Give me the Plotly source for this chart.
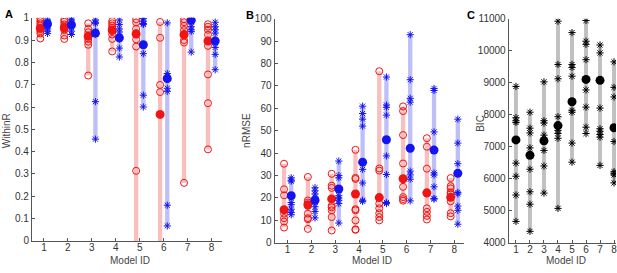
import plotly.graph_objects as go

models = [1, 2, 3, 4, 5, 6, 7, 8]

# Panel A: WithinR (red = circles, blue = stars)
withinR_red = [
    [0.996, 0.985, 0.975, 0.965, 0.955, 0.94, 0.93, 0.907],
    [0.992, 0.982, 0.97, 0.96, 0.953, 0.945, 0.92, 0.905],
    [0.975, 0.95, 0.935, 0.92, 0.905, 0.893, 0.879, 0.741],
    [0.985, 0.975, 0.965, 0.955, 0.94, 0.925, 0.905, 0.849],
    [0.993, 0.979, 0.95, 0.931, 0.903, 0.871, 0.314, -0.08],
    [0.981, 0.91, 0.699, 0.667, -0.05, -0.12, -0.2, -0.3],
    [0.993, 0.98, 0.964, 0.945, 0.927, 0.9, 0.889, 0.26],
    [0.971, 0.96, 0.946, 0.924, 0.874, 0.746, 0.617, 0.41],
]
withinR_red_mean = [0.952, 0.955, 0.917, 0.945, 0.927, 0.567, 0.924, 0.896]
withinR_blue = [
    [0.99, 0.985, 0.975, 0.968, 0.96, 0.95, 0.94, 0.93],
    [1.0, 0.99, 0.98, 0.975, 0.965, 0.955, 0.94, 0.925],
    [0.99, 0.98, 0.975, 0.94, 0.935, 0.927, 0.624, 0.456],
    [0.99, 0.97, 0.95, 0.936, 0.913, 0.903, 0.864, 0.824],
    [0.996, 0.985, 0.974, 0.97, 0.88, 0.839, 0.653, 0.6],
    [0.977, 0.75, 0.739, 0.735, 0.684, 0.67, 0.16, 0.067],
    [0.993, 0.99, 0.985, 0.981, 0.96, 0.946, 0.939, 0.846],
    [0.98, 0.96, 0.946, 0.931, 0.896, 0.867, 0.836, 0.767],
]
withinR_blue_mean = [0.972, 0.968, 0.931, 0.91, 0.879, 0.727, 0.989, 0.896]

# Panel B: nRMSE
nrmse_red = [
    [35.3, 23.9, 21.2, 14.5, 13.0, 11.0, 9.5, 6.8],
    [29.4, 18.9, 18.0, 16.5, 13.0, 11.0, 10.5, 6.2],
    [30.8, 25.5, 24.5, 16.5, 15.8, 14.5, 11.5, 5.5],
    [41.5, 29.0, 28.5, 15.0, 14.5, 10.0, 6.0, 5.8],
    [76.6, 33.2, 32.2, 17.5, 15.4, 13.2, 11.5, 10.0],
    [60.9, 58.8, 48.1, 35.4, 25.0, 20.4, 19.5, 18.8],
    [46.7, 42.9, 33.1, 22.0, 15.4, 13.8, 12.0, 10.4],
    [28.9, 25.3, 24.3, 22.5, 21.8, 18.5, 13.2, 11.8],
]
nrmse_red_mean = [14.8, 17.0, 19.6, 21.8, 20.2, 28.6, 22.3, 20.3]
nrmse_blue = [
    [29.0, 28.0, 27.5, 18.0, 17.0, 15.0, 13.5, 12.5],
    [24.6, 23.2, 21.8, 20.4, 18.2, 16.1, 14.0, 11.1],
    [36.5, 30.0, 29.0, 21.0, 20.0, 19.0, 17.5, 8.8],
    [61.0, 57.7, 55.2, 52.1, 32.8, 26.7, 19.0, 18.5],
    [74.0, 61.5, 60.5, 57.0, 38.8, 30.5, 18.0, 17.5],
    [92.9, 72.8, 64.5, 62.8, 32.0, 30.3, 28.4, 18.7],
    [68.9, 68.0, 49.5, 31.2, 30.3, 25.0, 19.8, 19.5],
    [55.2, 44.5, 35.3, 22.5, 21.8, 16.4, 14.5, 8.3],
]
nrmse_blue_mean = [21.0, 19.0, 24.0, 36.0, 46.0, 42.2, 41.4, 31.0]

# Panel C: BIC
bic = [
    [8887, 7910, 7812, 7761, 6490, 6081, 5493, 4669],
    [8081, 7582, 7433, 6967, 6299, 5594, 5206, 4358],
    [9030, 7813, 7744, 7364, 7166, 6887, 6400, 5553],
    [10925, 9573, 9125, 7940, 7513, 7415, 7266, 5075],
    [10569, 9573, 9475, 9206, 8141, 8081, 7116, 6519],
    [10946, 10300, 10200, 9722, 8776, 8239, 7612, 7415],
    [10181, 9933, 8210, 7564, 7484, 7385, 7300, 6418],
    [9654, 8857, 8558, 7164, 6221, 6170, 6120, 5872],
]
bic_mean = [7215, 6737, 7190, 7663, 8409, 9106, 9076, 7594]

RED = "rgb(240,20,20)"
BLUE = "rgb(20,20,240)"
RED_BAR = "rgb(249,190,190)"
BLUE_BAR = "rgb(190,190,248)"
GRAY_BAR = "rgb(192,192,192)"
OFF = 0.15

fig = go.Figure()


def add_group(vals, means, off, bar_color, color, sym, xa, ya, bw, msize):
    lo = [min(v) for v in vals]
    hi = [max(v) for v in vals]
    fig.add_trace(go.Bar(x=models, y=[h - l for h, l in zip(hi, lo)], base=lo,
                         width=bw, offset=off - bw / 2, marker_color=bar_color,
                         marker_line_width=0, xaxis=xa, yaxis=ya, showlegend=False))
    xs, ys = [], []
    for m, v in zip(models, vals):
        xs += [m + off] * len(v)
        ys += v
    fig.add_trace(go.Scatter(x=xs, y=ys, mode="markers", xaxis=xa, yaxis=ya,
                             marker=dict(symbol=sym, size=msize, color=color,
                                         line=dict(color=color, width=1)),
                             showlegend=False))
    fig.add_trace(go.Scatter(x=[m + off for m in models], y=means, mode="markers",
                             xaxis=xa, yaxis=ya,
                             marker=dict(symbol="circle", size=9, color=color,
                                         line=dict(width=0)),
                             showlegend=False))


add_group(withinR_red, withinR_red_mean, -OFF, RED_BAR, RED, "circle-open", "x", "y", 0.18, 7)
add_group(withinR_blue, withinR_blue_mean, OFF, BLUE_BAR, BLUE, "asterisk-open", "x", "y", 0.18, 6)
add_group(nrmse_red, nrmse_red_mean, -OFF, RED_BAR, RED, "circle-open", "x2", "y2", 0.18, 7)
add_group(nrmse_blue, nrmse_blue_mean, OFF, BLUE_BAR, BLUE, "asterisk-open", "x2", "y2", 0.18, 6)
add_group(bic, bic_mean, 0.0, GRAY_BAR, "black", "asterisk-open", "x3", "y3", 0.28, 6)

W, H = 617, 273
axcol = "#555555"
tickfont = dict(family="Liberation Sans, Arial, sans-serif", size=10, color="#333333")
common = dict(showline=True, linecolor=axcol, linewidth=1, ticks="inside", ticklen=3,
              tickcolor=axcol, showgrid=False, zeroline=False, tickfont=tickfont)
xcommon = dict(common, ticklabelstandoff=-3, ticklabeloverflow="allow")

fig.update_layout(
    width=W, height=H, margin=dict(l=0, r=0, t=0, b=0),
    paper_bgcolor="white", plot_bgcolor="white", barmode="overlay",
    xaxis=dict(domain=[32 / W, 222 / W], range=[0.5, 8.42], tickvals=models, anchor="y", **xcommon),
    yaxis=dict(domain=[0.1, 0.955], range=[0, 1], tickvals=[i / 10 for i in range(11)],
               ticktext=["0"] + [f"{i/10:.1f}" for i in range(1, 10)] + ["1"], anchor="x", **common),
    xaxis2=dict(domain=[275 / W, 465 / W], range=[0.45, 8.42], tickvals=models, anchor="y2", **xcommon),
    yaxis2=dict(domain=[0.0927, 0.951], range=[0, 100], tickvals=list(range(0, 101, 10)),
                anchor="x2", **common),
    xaxis3=dict(domain=[509.5 / W, 1.0], range=[0.48, 8.14], tickvals=models, anchor="y3", **xcommon),
    yaxis3=dict(domain=[0.0927, 0.951], range=[4000, 11000], tickvals=list(range(4000, 11001, 1000)),
                tickformat="d", anchor="x3", **common),
)

lab_font = dict(family="Liberation Sans, Arial, sans-serif", size=10, color="#444444")
letter_font = dict(family="Liberation Sans, Arial, sans-serif", size=11, color="black")


def ann(text, px, py, font, angle=0):
    fig.add_annotation(text=text, x=px / W, y=1 - py / H, xref="paper", yref="paper",
                       showarrow=False, font=font, textangle=angle,
                       xanchor="center", yanchor="middle")


ann("<b>A</b>", 9, 8, letter_font)
ann("<b>B</b>", 250, 9, letter_font)
ann("<b>C</b>", 472, 9, letter_font)
ann("WithinR", 6, 130, lab_font, -90)
ann("nRMSE", 247, 130, lab_font, -90)
ann("BIC", 481, 123, lab_font, -90)
ann("Model ID", 130, 266, lab_font)
ann("Model ID", 373, 266, lab_font)
ann("Model ID", 567, 266, lab_font)

fig.write_html("out.html", config={"displayModeBar": False},
               post_script="document.body.style.margin='0';document.body.style.overflow='hidden';")
